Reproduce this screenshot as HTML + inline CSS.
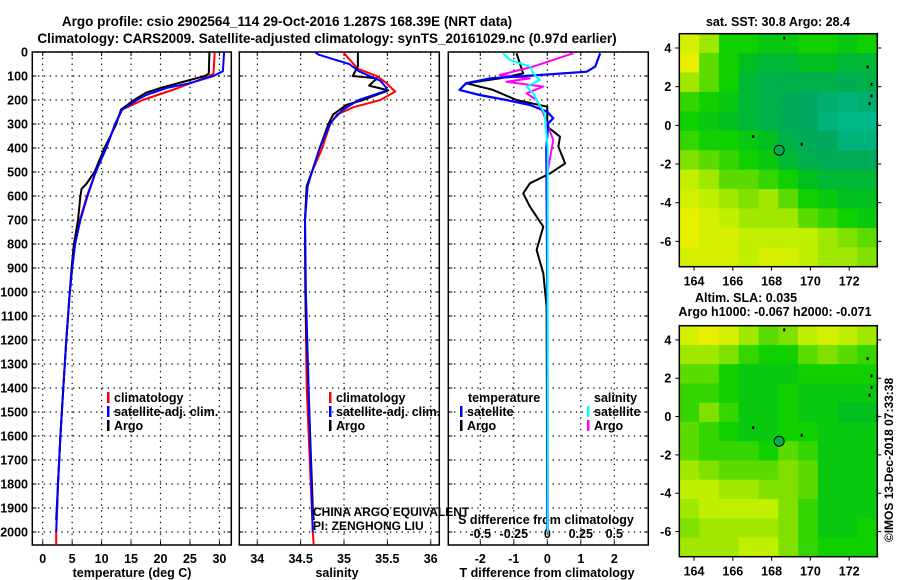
<!DOCTYPE html>
<html><head><meta charset="utf-8"><style>
html,body{margin:0;padding:0;background:#fff;}
svg{display:block;font-family:"Liberation Sans",sans-serif;}
.b{font-weight:bold;font-size:12.5px;}
</style></head><body>
<svg id="c" width="900" height="580" viewBox="0 0 900 580"></svg>
<script>
// ---- data ----
const depthTicks=[0,100,200,300,400,500,600,700,800,900,1000,1100,1200,1300,1400,1500,1600,1700,1800,1900,2000];
const tempTicks=[0,5,10,15,20,25,30];
const salTicks=[34,34.5,35,35.5,36];
const salTickLabels=["34","34.5","35","35.5","36"];
const tdTicks=[-2,-1,0,1,2];
const sdTicks=[-0.5,-0.25,0,0.25,0.5];
const sdTickLabels=["-0.5","-0.25","0","0.25","0.5"];
const tArgoD=[0,90,100,150,170,200,240,300,400,500,550,570,600,700,800,900,1000,1200,1400,1600,1800,1950];
const tArgoV=[28.3,28.2,27.5,20,17.5,15.5,13.3,12.5,10.5,8.8,7.4,6.6,6.4,6.0,5.3,4.9,4.6,4.0,3.5,3.0,2.6,2.3];
const tClimD=[0,90,100,150,200,240,300,400,500,600,700,800,900,1000,1200,1400,1600,1800,2000,2054];
const tClimV=[29.2,29,28.3,23,17,13.5,12.3,10.8,9.0,7.5,6.3,5.5,5.0,4.6,4.0,3.5,3.0,2.6,2.3,2.3];
const tSatD=[0,80,100,130,150,180,200,240,300,400,500,600,700,800,900,1000,1200,1400,1600,1800,2000];
const tSatV=[30.8,30.6,29,25,21,17.5,16,13.5,12.3,10.8,9.0,7.6,6.4,5.5,5.0,4.6,4.0,3.5,3.0,2.6,2.3];
const sArgoD=[0,60,100,110,140,160,200,220,260,300,400,500,560,700,1000,1100,1500,1900,1950];
const sArgoV=[35.16,35.16,35.10,35.38,35.29,35.51,35.22,35.03,34.875,34.82,34.72,34.63,34.57,34.55,34.555,34.56,34.60,34.64,34.65];
const sClimD=[0,30,70,100,130,165,200,230,260,300,400,500,560,700,1000,1400,2000,2054];
const sClimV=[34.99,35.06,35.16,35.38,35.49,35.59,35.42,35.11,34.92,34.84,34.75,34.63,34.57,34.55,34.555,34.57,34.64,34.65];
const sSatD=[0,10,30,50,80,120,150,165,200,240,280,300,400,500,560,700,1000,1500,2000];
const sSatV=[34.665,34.7,34.875,35.06,35.17,35.42,35.49,35.46,35.17,34.99,34.88,34.84,34.72,34.63,34.58,34.55,34.56,34.60,34.64];
const dTSatD=[5,61,82,96,110,130,158,179,200,221,249,276,297,400,1000,2000];
const dTSatV=[1.58,1.43,1.18,-0.22,-1.72,-2.42,-2.62,-2.02,-1.22,-0.52,0,0.18,0.03,-0.03,0,0];
const dTArgoD=[5,89,110,130,158,200,228,311,353,394,464,506,547,589,644,728,825,922,1061,1950];
const dTArgoV=[-0.92,-0.72,-1.42,-2.42,-1.62,-0.92,0,0,0.38,0.33,0.53,0.08,-0.52,-0.72,-0.52,-0.12,-0.32,-0.12,-0.02,0];
const dSArgoD=[5,61,96,110,124,144,172,200,256,367,506,617,2000];
const dSArgoV=[0.195,-0.105,-0.355,-0.13,-0.305,-0.03,-0.155,-0.08,-0.03,0.045,0,0,0.005];
const dSSatD=[5,33,61,89,117,144,172,200,256,400,2000];
const dSSatV=[-0.33,-0.28,-0.13,-0.105,-0.055,-0.155,-0.105,-0.08,-0.02,0.003,0.003];
const lonTicks=[164,166,168,170,172];
const latTicks=[4,2,0,-2,-4,-6];
const argoLon=168.39, argoLat=-1.287;
const sstGrid=[
[0.8,0.7,0.5,0.5,0.45,0.45,0.5,0.5,0.45,0.5],
[0.85,0.6,0.5,0.4,0.35,0.35,0.4,0.4,0.35,0.35],
[0.7,0.6,0.5,0.35,0.3,0.3,0.3,0.3,0.28,0.3],
[0.55,0.5,0.45,0.35,0.3,0.27,0.25,0.22,0.2,0.22],
[0.5,0.45,0.4,0.35,0.3,0.27,0.25,0.2,0.17,0.17],
[0.55,0.5,0.5,0.45,0.4,0.3,0.27,0.25,0.2,0.2],
[0.65,0.6,0.55,0.5,0.45,0.35,0.3,0.27,0.27,0.27],
[0.75,0.7,0.6,0.6,0.55,0.5,0.4,0.35,0.35,0.35],
[0.8,0.75,0.7,0.65,0.7,0.6,0.5,0.45,0.4,0.4],
[0.85,0.8,0.75,0.7,0.7,0.7,0.6,0.55,0.5,0.45],
[0.85,0.8,0.8,0.75,0.75,0.75,0.75,0.7,0.65,0.6],
[0.8,0.8,0.8,0.75,0.8,0.8,0.75,0.7,0.7,0.65]];
const slaGrid=[
[0.8,0.85,0.8,0.7,0.6,0.65,0.75,0.8,0.75,0.7],
[0.7,0.7,0.65,0.55,0.5,0.5,0.6,0.65,0.6,0.55],
[0.6,0.6,0.5,0.45,0.45,0.45,0.5,0.5,0.5,0.5],
[0.55,0.55,0.5,0.45,0.45,0.5,0.45,0.45,0.45,0.45],
[0.55,0.65,0.55,0.45,0.45,0.5,0.45,0.45,0.4,0.4],
[0.6,0.55,0.5,0.45,0.45,0.5,0.5,0.45,0.45,0.45],
[0.6,0.55,0.55,0.55,0.5,0.6,0.55,0.45,0.45,0.45],
[0.7,0.65,0.6,0.6,0.6,0.65,0.6,0.45,0.45,0.45],
[0.75,0.75,0.7,0.7,0.65,0.65,0.6,0.45,0.45,0.45],
[0.7,0.75,0.75,0.75,0.75,0.65,0.55,0.45,0.45,0.45],
[0.65,0.7,0.7,0.7,0.7,0.65,0.55,0.45,0.45,0.5],
[0.7,0.7,0.7,0.75,0.75,0.65,0.55,0.5,0.5,0.5]];

// ---- helpers ----
const NS="http://www.w3.org/2000/svg";
const svg=document.getElementById('c');
function mk(tag,attrs,parent){const e=document.createElementNS(NS,tag);for(const k in attrs)e.setAttribute(k,attrs[k]);(parent||svg).appendChild(e);return e;}
function txt(s,x,y,anchor,cls,parent,extra){const e=mk('text',Object.assign({x:x,y:y,'text-anchor':anchor||'start','class':cls||'b'},extra||{}),parent);e.textContent=s;return e;}
const Y0=52,Y1=545;
const yD=d=>Y0+d*0.24;
const xT=v=>42.7+v*5.89;
const xS=v=>257.3+(v-34)*86.7;
const xTD=v=>547.3+v*33.5;
const xSD=v=>547.3+v*134;
const panels=[{l:32.3,r:231.3,ticks:tempTicks,f:xT,labels:tempTicks.map(String),name:'temperature-panel'},
{l:239.3,r:439.3,ticks:salTicks,f:xS,labels:salTickLabels,name:'salinity-panel'},
{l:448.3,r:648.3,ticks:tdTicks,f:xTD,labels:tdTicks.map(String),name:'difference-panel'}];

// titles
let t=txt('Argo profile: csio 2902564_114 29-Oct-2016 1.287S 168.39E (NRT data)',287,26,'middle','b');


t.style.fontSize='13.5px';
t=txt('Climatology: CARS2009. Satellite-adjusted climatology: synTS_20161029.nc (0.97d earlier)',327,43,'middle','b');


t.style.fontSize='13.5px';

panels.forEach((p,i)=>{
  const g=mk('g',{});
  
  
  depthTicks.forEach(d=>{
    mk('line',{x1:p.l,x2:p.r,y1:yD(d),y2:yD(d),stroke:'#000','stroke-width':1.2,'stroke-dasharray':'1.3 4.5'},g);
    mk('line',{x1:p.l,x2:p.l+4,y1:yD(d),y2:yD(d),stroke:'#000'},g);
    mk('line',{x1:p.r-4,x2:p.r,y1:yD(d),y2:yD(d),stroke:'#000'},g);
  });
  p.ticks.forEach((v,k)=>{
    const x=p.f(v);
    mk('line',{x1:x,x2:x,y1:Y0,y2:Y1,stroke:'#000','stroke-width':1.2,'stroke-dasharray':'1.3 4.5'},g);
    mk('line',{x1:x,x2:x,y1:Y1-4,y2:Y1,stroke:'#000'},g);
    mk('line',{x1:x,x2:x,y1:Y0,y2:Y0+4,stroke:'#000'},g);
    const tl=txt(p.labels[k],x,563,'middle','b',g);
    
    
  });
  const fr=mk('rect',{x:p.l,y:Y0,width:p.r-p.l,height:Y1-Y0,fill:'none',stroke:'#000','stroke-width':1.5},g);
  
  
});
depthTicks.forEach(d=>{
  const e=txt(String(d),28,yD(d)+4.5,'end','b');
  
  
});
[['temperature (deg C)',132,'temperature-axis-title'],['salinity',337,'salinity-axis-title'],['T difference from climatology',547,'t-diff-axis-title']].forEach(a=>{
  const e=txt(a[0],a[1],577,'middle','b');
  
  
});
sdTicks.forEach((v,k)=>{
  const e=txt(sdTickLabels[k],xSD(v),538,'middle','b');
  
  
});
t=txt('S difference from climatology',546,524,'middle','b');



function line(D,V,fx,color,name,w){
  const pts=D.map((d,i)=>fx(V[i]).toFixed(1)+','+yD(d).toFixed(1)).join(' ');
  const e=mk('polyline',{points:pts,fill:'none',stroke:color,'stroke-width':w||2,'stroke-linejoin':'round'});
  
  
}
line(tClimD,tClimV,xT,'#f00','temp-climatology-line');
line(tArgoD,tArgoV,xT,'#000','temp-argo-line');
line(tSatD,tSatV,xT,'#00f','temp-satellite-line');
line(sClimD,sClimV,xS,'#f00','sal-climatology-line');
line(sArgoD,sArgoV,xS,'#000','sal-argo-line');
line(sSatD,sSatV,xS,'#00f','sal-satellite-line');
line(dTArgoD,dTArgoV,xTD,'#000','tdiff-argo-line');
line(dSArgoD,dSArgoV,xSD,'#f0f','sdiff-argo-line');
line(dTSatD,dTSatV,xTD,'#00f','tdiff-satellite-line',2.2);
line(dSSatD,dSSatV,xSD,'#0ff','sdiff-satellite-line');

function legend(x,y,color,label){
  mk('rect',{x:x,y:y-10,width:2.5,height:11,fill:color});
  const e=txt(label,x+7,y,'start','b');
  
  
}
[[107,'#f00','climatology'],[107,'#00f','satellite-adj. clim.'],[107,'#000','Argo']].forEach((a,i)=>legend(a[0],402+i*14,a[1],a[2]));
[[329,'#f00','climatology'],[329,'#00f','satellite-adj. clim.'],[329,'#000','Argo']].forEach((a,i)=>legend(a[0],402+i*14,a[1],a[2]));
t=txt('temperature',468,402,'start','b');
t=txt('salinity',594,402,'start','b');
legend(460,416,'#00f','satellite');legend(460,430,'#000','Argo');
legend(587,416,'#0ff','satellite');legend(587,430,'#f0f','Argo');
t=txt('CHINA ARGO EQUIVALENT',313,516,'start','');t.style.fontSize='12px';
t=txt('PI: ZENGHONG LIU',313,530,'start','');t.style.fontSize='12px';

// ---- maps ----
const mapL=679.3,mapR=877.3,lon0=163.24,lon1=173.45,lat0=4.74,lat1=-7.31;
const stops=[[0.1,[0,200,176]],[0.25,[0,168,96]],[0.4,[0,192,32]],[0.5,[16,208,0]],[0.65,[128,224,0]],[0.75,[192,240,0]],[0.85,[232,240,0]],[1,[240,128,0]]];
function cmap(v){
  if(v<=stops[0][0])return 'rgb('+stops[0][1]+')';
  for(let i=1;i<stops.length;i++){if(v<=stops[i][0]){const a=stops[i-1],b=stops[i],f=(v-a[0])/(b[0]-a[0]);return 'rgb('+a[1].map((c,k)=>Math.round(c+(b[1][k]-c)*f)).join(',')+')';}}
  return 'rgb('+stops[stops.length-1][1]+')';
}
function map(top,bot,grid,name){
  const xL=lo=>mapL+(lo-lon0)/(lon1-lon0)*(mapR-mapL);
  const yL=la=>top+(lat0-la)/(lat0-lat1)*(bot-top);
  const g=mk('g',{});
  
  
  const R=grid.length,C=grid[0].length,cw=(mapR-mapL)/C,ch=(bot-top)/R;
  grid.forEach((row,r)=>row.forEach((v,c)=>{
    const cell=mk('rect',{x:mapL+c*cw,y:top+r*ch,width:cw+0.5,height:ch+0.5,fill:cmap(v)},g);
    
    
  }));
  mk('rect',{x:mapL,y:top,width:mapR-mapL,height:bot-top,fill:'none',stroke:'#000','stroke-width':1.5},g);
  lonTicks.forEach(lo=>{const x=xL(lo);mk('line',{x1:x,x2:x,y1:bot,y2:bot+4,stroke:'#000'},g);
    const e=txt(String(lo),x,bot+19,'middle','b',g);});
  latTicks.forEach(la=>{const y=yL(la);mk('line',{x1:mapL-4,x2:mapL,y1:y,y2:y,stroke:'#000'},g);mk('line',{x1:mapR,x2:mapR+4,y1:y,y2:y,stroke:'#000'},g);
    const e=txt(String(la),mapL-8,y+4.5,'end','b',g);});
  [[172.9,3.1],[173.1,2.2],[173.1,1.6],[173.0,1.2],[173.4,0.1],[167,-0.5],[169.5,-0.9],[168.6,4.6]].forEach(p=>mk('rect',{x:xL(p[0]),y:yL(p[1]),width:2,height:3,fill:'#000'},g));
  const m=mk('circle',{cx:xL(argoLon),cy:yL(argoLat),r:5,fill:'#00b050',stroke:'#000','stroke-width':1},g);
  
  
}
map(33.7,266.7,sstGrid,'sst-map');
map(325.7,556.7,slaGrid,'sla-map');
t=txt('sat. SST: 30.8 Argo: 28.4',778,26,'middle','b');
t=txt('Altim. SLA: 0.035',746,302,'middle','b');
t=txt('Argo h1000: -0.067 h2000: -0.071',775,316,'middle','b');
t=txt('©IMOS 13-Dec-2018 07:33:38',0,0,'middle','',null,{transform:'translate(893,460) rotate(-90)'});t.style.fontSize='12px';
</script>
</body></html>
